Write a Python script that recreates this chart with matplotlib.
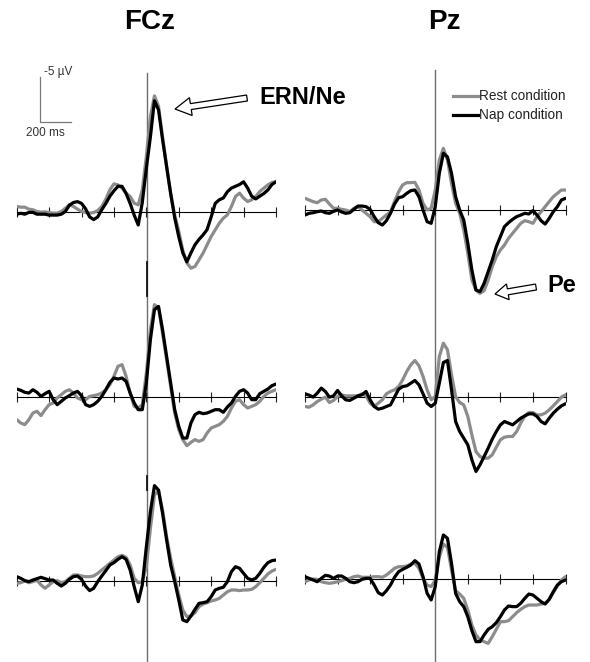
import numpy as np
import matplotlib
matplotlib.use("Agg")
import matplotlib.pyplot as plt
from matplotlib.patches import FancyArrow

plt.rcParams['font.family'] = ['Liberation Sans', 'DejaVu Sans']

# time axis (ms), sampled every 25 ms
times = np.arange(-800, 801, 25)

# amplitudes in microvolts (negative plotted upwards)
# FCz
fcz1_rest = [-0.56, -0.48, -0.48, -0.26, -0.19, 0.0, 0.07, 0.04, 0.11, 0.19, 0.19, 0.0, -0.37, -0.74, -0.56, -0.26,
             0.0, 0.11, 0.19, 0.11, -0.11, -0.56, -1.37, -2.41, -3.07, -2.96, -2.59, -2.04, -1.67, -0.93, -0.74, -2.41,
             -6.11, -10.56, -12.85, -11.7, -8.3, -5.0, -2.0, 0.4, 2.2, 4.3, 5.7, 6.3, 6.11, 5.37, 4.63, 3.7,
             2.78, 2.04, 1.3, 0.74, 0.37, -0.56, -1.67, -2.04, -1.48, -1.11, -1.3, -1.67, -2.22, -2.59, -2.96, -3.22, -3.33]
fcz1_nap = [0.3, 0.2, 0.3, 0.1, 0.1, 0.3, 0.3, 0.3, 0.4, 0.4, 0.4, 0.3, 0.0, -0.7, -1.0, -1.1,
            -0.9, -0.3, 0.6, 0.9, 0.6, -0.2, -0.9, -1.7, -2.3, -2.8, -2.8, -2.0, -0.9, 0.4, 1.5, -1.0,
            -4.8, -8.3, -12.3, -11.3, -8.0, -5.0, -2.0, 0.7, 2.8, 4.6, 5.6, 4.6, 3.7, 3.1, 2.6, 2.0,
            0.6, -0.9, -1.3, -1.5, -2.2, -2.6, -2.8, -3.0, -3.3, -2.6, -1.7, -1.4, -1.7, -2.0, -2.4, -3.0, -3.3]
fcz2_rest = [2.52, 2.89, 3.07, 2.52, 1.78, 1.59, 2.07, 1.41, 0.85, 0.67, 0.11, -0.26, -0.63, -0.81, -0.44, 0.11,
             0.3, 0.3, -0.07, -0.15, -0.26, -0.44, -0.81, -1.37, -2.3, -3.41, -3.59, -2.3, -0.44, 1.04, 1.22, 0.85,
             -2.67, -7.48, -10.26, -9.89, -7.11, -4.15, -1.19, 1.78, 3.63, 4.74, 5.41, 5.04, 4.74, 4.93, 4.74, 4.0,
             3.44, 3.26, 3.07, 2.7, 2.15, 1.22, 0.48, 0.3, 0.85, 1.22, 1.04, 0.85, 0.48, -0.07, -0.44, -0.63, -0.81]
fcz2_nap = [-0.89, -0.74, -0.52, -0.44, -0.81, -0.52, -0.07, -0.37, -0.63, 0.3, 0.85, 0.48, 0.11, -0.15, -0.44, -0.63,
            -0.15, 0.85, 1.04, 0.85, 0.48, -0.07, -0.81, -1.63, -2.11, -2.0, -2.11, -1.74, -0.44, 0.67, 1.41, 1.41,
            -1.56, -6.37, -9.7, -10.07, -7.48, -4.52, -1.56, 1.41, 3.26, 4.56, 4.56, 2.89, 1.96, 1.7, 1.85, 1.78,
            1.59, 1.41, 1.41, 1.7, 1.11, 0.67, -0.07, -0.63, -0.81, -0.44, 0.3, 0.3, -0.37, -0.63, -0.89, -1.26, -1.44]
fcz3_rest = [0.26, 0.19, 0.0, 0.19, 0.07, -0.11, 0.44, 0.81, 0.44, 0.07, -0.04, 0.19, 0.07, -0.3, -0.67, -0.67,
             -0.56, -0.48, -0.48, -0.56, -0.85, -1.22, -1.59, -1.96, -2.33, -2.7, -2.85, -2.63, -1.78, -0.3, 0.19, 0.07,
             -1.59, -5.85, -9.56, -10.04, -7.89, -4.93, -2.52, -0.48, 1.56, 3.22, 3.96, 3.89, 3.52, 2.85, 2.56, 2.41,
             2.22, 2.11, 1.93, 1.56, 1.19, 1.0, 1.0, 1.07, 1.0, 1.0, 0.93, 0.63, 0.19, -0.3, -0.78, -1.11, -1.3]
fcz3_nap = [-0.48, -0.3, -0.04, 0.07, -0.11, -0.26, -0.41, -0.26, -0.11, -0.11, 0.26, 0.56, 0.26, -0.19, -0.48, -0.56,
            -0.19, 0.56, 1.07, 0.81, 0.07, -0.56, -1.15, -1.78, -2.04, -2.41, -2.7, -2.41, -1.22, 0.63, 2.3, 0.44,
            -3.81, -7.7, -10.6, -10.1, -7.52, -4.56, -1.78, 0.07, 2.11, 4.33, 4.52, 3.89, 3.15, 2.48, 2.41, 2.3,
            1.74, 1.0, 0.81, 0.7, 0.07, -1.04, -1.59, -1.41, -0.85, -0.3, -0.11, -0.3, -0.85, -1.52, -2.04, -2.26, -2.33]
# Pz
pz1_rest = [-1.3, -1.11, -0.93, -0.81, -1.11, -1.19, -0.67, -0.19, -0.19, -0.07, 0.0, 0.19, -0.19, -0.37, 0.0, 0.37,
            0.74, 1.3, 1.3, 0.93, 0.56, 0.19, -0.93, -2.04, -2.78, -3.04, -3.04, -3.07, -2.22, -0.74, 0.0, -0.19,
            -2.22, -5.56, -6.85, -5.56, -2.96, -0.74, 0.37, 2.22, 4.81, 7.78, 8.89, 9.26, 8.96, 7.78, 6.3, 5.19,
            4.44, 3.89, 3.15, 2.59, 2.04, 1.48, 1.19, 1.3, 1.48, 0.74, 0.19, -0.37, -0.93, -1.48, -1.85, -2.22, -2.22]
pz1_nap = [0.56, 0.37, 0.3, 0.19, 0.11, 0.3, 0.37, 0.15, 0.0, 0.22, 0.37, 0.3, -0.07, -0.44, -0.44, -0.37,
           -0.07, 0.74, 1.41, 1.67, 1.19, 0.37, -0.67, -1.37, -1.48, -1.85, -2.15, -2.22, -1.48, 0.0, 1.3, 1.48,
           -0.37, -4.07, -6.3, -5.9, -4.07, -1.48, 0.0, 1.11, 3.7, 6.67, 8.89, 9.07, 8.15, 6.85, 5.56, 4.07,
           2.96, 1.85, 1.41, 1.04, 0.74, 0.56, 0.37, 0.44, 0.07, 0.56, 1.19, 1.56, 0.93, 0.19, -0.37, -1.11, -1.3]
pz2_rest = [1.11, 1.19, 0.93, 0.56, 0.3, 0.07, 0.67, 0.44, 0.0, -0.19, -0.07, -0.07, -0.07, -0.07, -0.3, -0.07,
            0.74, 1.11, 0.74, 0.37, -0.3, -0.56, -0.74, -1.11, -1.85, -2.78, -3.52, -4.0, -3.41, -2.22, -0.74, 0.37,
            0.0, -4.44, -5.93, -5.19, -2.41, 0.0, 0.67, 0.93, 2.22, 4.26, 6.11, 6.67, 6.85, 6.85, 6.48, 5.63,
            4.81, 4.52, 4.44, 4.44, 3.89, 2.96, 2.15, 1.78, 1.78, 2.04, 2.04, 1.85, 1.48, 1.04, 0.56, 0.07, -0.19]
pz2_nap = [-0.3, -0.15, 0.07, -0.37, -0.93, -0.56, 0.07, -0.07, -0.67, -0.07, 0.37, 0.44, 0.19, -0.07, -0.19, -0.56,
           0.37, 1.11, 1.41, 1.3, 1.11, 0.93, 0.07, -0.81, -1.11, -1.19, -1.48, -1.78, -1.3, -0.3, 0.74, 1.11,
           0.74, -1.48, -3.78, -4.0, -0.74, 2.78, 3.89, 4.63, 5.37, 7.04, 8.33, 7.59, 6.67, 5.74, 4.74, 3.89,
           3.15, 2.78, 2.96, 3.15, 2.78, 2.41, 2.15, 1.93, 1.93, 2.22, 2.78, 3.04, 2.41, 1.85, 1.41, 1.04, 0.81]
pz3_rest = [0.3, 0.11, 0.0, 0.04, 0.3, 0.41, 0.48, 0.41, 0.3, 0.19, 0.04, -0.07, -0.26, -0.33, -0.19, -0.19,
            -0.19, -0.26, -0.26, -0.19, -0.44, -0.81, -1.19, -1.37, -1.37, -1.44, -1.67, -1.74, -1.19, -0.07, 0.67, 0.85,
            0.11, -2.41, -3.89, -3.52, -1.0, 1.3, 1.67, 2.15, 3.44, 5.11, 6.22, 6.78, 6.96, 7.15, 6.41, 5.59,
            4.74, 4.74, 4.63, 4.19, 3.74, 3.37, 3.07, 2.89, 2.89, 2.89, 2.78, 2.7, 2.26, 1.52, 0.78, 0.11, -0.26]
pz3_nap = [-0.26, -0.07, 0.11, 0.3, -0.07, -0.41, -0.33, -0.07, -0.33, -0.33, -0.07, 0.3, 0.41, 0.3, 0.04, -0.07,
           -0.07, 0.67, 1.52, 1.78, 1.3, 0.67, -0.19, -0.81, -1.07, -1.3, -1.56, -2.04, -1.67, -0.26, 1.59, 2.33,
           0.85, -3.04, -4.89, -4.52, -1.74, 1.59, 2.52, 3.07, 4.19, 5.74, 6.96, 6.96, 6.22, 5.59, 5.3, 4.85,
           4.19, 3.44, 3.0, 3.07, 3.07, 2.7, 2.15, 1.67, 1.78, 2.15, 2.52, 2.78, 2.26, 1.41, 0.67, 0.3, 0.11]

titles = ["FCz", "Pz"]
legend_labels = ["Rest condition", "Nap condition"]
tick_ms = np.arange(-800, 801, 200)

W, H = 590, 662
PX_PER_UV = 9.0
REST_COL = "#8c8c8c"
NAP_COL = "black"

fig = plt.figure(figsize=(W / 100, H / 100), dpi=100)

# panel layout in pixels: x-range of the time axis, baseline, vertical extent
col_x = [(16.7, 276.0), (305.0, 565.5)]
rows = [
    [(211.5, 60, 296), (397.0, 296, 482), (581.0, 482, 662)],
    [(210.0, 60, 296), (396.5, 296, 482), (579.0, 482, 662)],
]
data = [
    [(fcz1_rest, fcz1_nap), (fcz2_rest, fcz2_nap), (fcz3_rest, fcz3_nap)],
    [(pz1_rest, pz1_nap), (pz2_rest, pz2_nap), (pz3_rest, pz3_nap)],
]

for c in range(2):
    x0, x1 = col_x[c]
    for r in range(3):
        yb, top, bot = rows[c][r]
        ax = fig.add_axes([x0 / W, 1 - bot / H, (x1 - x0) / W, (bot - top) / H])
        ax.patch.set_alpha(0)
        rest, nap = data[c][r]
        ax.plot(times, rest, color=REST_COL, lw=2.3, solid_capstyle='round', zorder=3)
        ax.plot(times, nap, color=NAP_COL, lw=2.3, solid_capstyle='round', zorder=4)
        ax.set_xlim(-800, 800)
        ax.set_ylim((bot - yb) / PX_PER_UV, (top - yb) / PX_PER_UV)
        for s in ['top', 'left', 'right']:
            ax.spines[s].set_visible(False)
        ax.spines['bottom'].set_position(('data', 0))
        ax.spines['bottom'].set_linewidth(0.8)
        ax.spines['bottom'].set_zorder(2)
        ax.set_xticks(tick_ms)
        ax.tick_params(axis='x', direction='inout', length=7, width=0.8,
                       labelbottom=False, color='#222222')
        ax.set_yticks([])

# overlay in pixel coordinates for labels and decorations
ov = fig.add_axes([0, 0, 1, 1], zorder=-1)
ov.set_xlim(0, W)
ov.set_ylim(H, 0)
ov.axis('off')

# zero lines
ov.plot([146.6, 146.6], [73, 662], color='#6e6e6e', lw=1.0)
ov.plot([146.6, 146.6], [262, 296], color='#111111', lw=1.3)
ov.plot([146.6, 146.6], [476, 490], color='#111111', lw=1.3)
ov.plot([435.2, 435.2], [70, 662], color='#6e6e6e', lw=1.0)

ov2 = fig.add_axes([0, 0, 1, 1], zorder=10)
ov2.set_xlim(0, W)
ov2.set_ylim(H, 0)
ov2.axis('off')
ov2.patch.set_alpha(0)

ov2.text(150, 22, titles[0], fontsize=20, fontweight='bold', ha='center', va='center')
ov2.text(444, 22, titles[1], fontsize=20, fontweight='bold', ha='center', va='center')

# scale bar
ov2.plot([40, 40, 71], [77, 122, 122], color='#7a7a7a', lw=0.9)
ov2.text(44, 72, "-5 µV", fontsize=8.5, color='#333333', va='center', ha='left')
ov2.text(26, 133, "200 ms", fontsize=8.5, color='#333333', va='center', ha='left')

# legend
ov2.plot([453, 478], [96, 96], color=REST_COL, lw=2.3)
ov2.plot([453, 478], [115, 115], color=NAP_COL, lw=2.3)
ov2.text(479, 96, legend_labels[0], fontsize=9.8, color='#222222', va='center', ha='left')
ov2.text(479, 115, legend_labels[1], fontsize=9.8, color='#222222', va='center', ha='left')

# annotations
ov2.add_patch(FancyArrow(247, 98, -72, 11, width=6, head_width=18, head_length=16,
                         length_includes_head=True, fc='white', ec='black', lw=0.9))
ov2.text(259, 97, "ERN/Ne", fontsize=17, fontweight='bold', va='center', ha='left')
ov2.add_patch(FancyArrow(536, 287, -41, 7, width=6, head_width=16, head_length=13,
                         length_includes_head=True, fc='white', ec='black', lw=0.9))
ov2.text(547, 286, "Pe", fontsize=17, fontweight='bold', va='center', ha='left')

fig.savefig("out.png", dpi=100)
